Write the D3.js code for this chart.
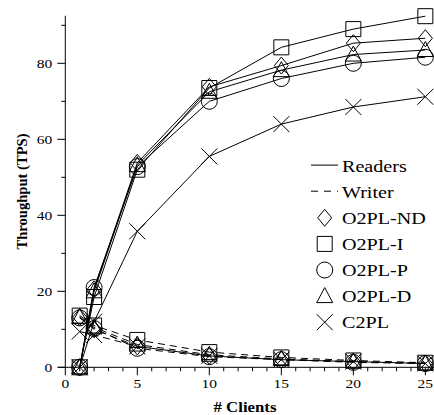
<!DOCTYPE html>
<html>
<head>
<meta charset="utf-8">
<script src="https://cdn.jsdelivr.net/npm/d3@7"></script>
<style>
  html, body { margin: 0; padding: 0; background: #fff; }
  svg { display: block; }
  text { font-family: "Liberation Serif", "Times New Roman", serif; fill: #000; }
</style>
</head>
<body>
<svg id="chart" width="434" height="415"></svg>
<script>
// Number of clients at each measurement point
const clients = [1, 2, 5, 10, 15, 20, 25];

// Protocols, in legend order
const protocols = ["O2PL-ND", "O2PL-I", "O2PL-P", "O2PL-D", "C2PL"];
const markers = ["diamond", "square", "circle", "triangle", "cross"];

// Reader throughput (TPS) per protocol
const readersND = [0, 20.5, 53.8, 73.8, 79.4, 85.3, 86.6];
const readersI  = [0, 18.5, 52.0, 73.5, 84.2, 89.0, 92.4];
const readersP  = [0, 21.0, 52.8, 70.0, 76.0, 80.0, 81.6];
const readersD  = [0, 20.0, 53.2, 72.5, 78.2, 82.3, 83.5];
const readersC  = [0, 12.0, 35.8, 55.5, 64.0, 68.5, 71.2];

// Writer throughput (TPS) per protocol
const writerND = [13.2, 10.0, 5.5, 3.0, 2.0, 1.5, 1.0];
const writerI  = [13.6, 11.0, 7.2, 4.0, 2.6, 1.8, 1.2];
const writerP  = [13.0, 10.2, 5.0, 2.8, 2.0, 1.3, 1.0];
const writerD  = [13.2, 10.5, 6.0, 3.3, 2.2, 1.5, 1.0];
const writerC  = [9.4, 8.5, 5.5, 3.0, 2.0, 1.5, 1.0];

const readers = [readersND, readersI, readersP, readersD, readersC];
const writers = [writerND, writerI, writerP, writerD, writerC];

// Axis ticks
const xMajorTicks = [0, 5, 10, 15, 20, 25];
const xMinorTicks = d3.range(0, 26);
const yMajorTicks = [0, 20, 40, 60, 80];
const yMinorTicks = [10, 30, 50, 70, 90];

const svg = d3.select("#chart");
const plotLeft = 65.3, plotRight = 434, plotTop = 15.8, plotBottom = 367.3;

const x = d3.scaleLinear().domain([0, 25.6]).range([plotLeft, plotRight]);
const y = d3.scaleLinear().domain([0, 92.5]).range([plotBottom, plotTop]);

// Glyphs drawn as paths centred on (0,0)
function markerPath(kind) {
  switch (kind) {
    case "diamond":  return "M0,-8.5L7,0L0,8.5L-7,0Z";
    case "square":   return "M-7.5,-7.5H7.5V7.5H-7.5Z";
    case "circle":   return "M8,0A8,8 0 1,1 -8,0A8,8 0 1,1 8,0Z";
    case "triangle": return "M0,-8.5L8,6.5L-8,6.5Z";
    case "cross":    return "M-8,-8L8,8M-8,8L8,-8";
  }
}

const axes = svg.append("g").attr("stroke", "#000").attr("stroke-width", 1);

// X axis
axes.append("line").attr("x1", plotLeft - 7).attr("x2", plotRight).attr("y1", plotBottom).attr("y2", plotBottom);
axes.selectAll(".xminor").data(xMinorTicks.filter(d => d % 5 !== 0)).join("line")
  .attr("x1", d => x(d)).attr("x2", d => x(d)).attr("y1", plotBottom).attr("y2", plotBottom + 4);
axes.selectAll(".xmajor").data(xMajorTicks).join("line")
  .attr("x1", d => x(d)).attr("x2", d => x(d)).attr("y1", plotBottom).attr("y2", plotBottom + 8);

// Y axis
axes.append("line").attr("x1", plotLeft).attr("x2", plotLeft).attr("y1", plotTop).attr("y2", plotBottom);
axes.selectAll(".yminor").data(yMinorTicks).join("line")
  .attr("x1", plotLeft - 4).attr("x2", plotLeft).attr("y1", d => y(d)).attr("y2", d => y(d));
axes.selectAll(".ymajor").data(yMajorTicks).join("line")
  .attr("x1", plotLeft - 8).attr("x2", plotLeft).attr("y1", d => y(d)).attr("y2", d => y(d));

// Tick labels (slightly wide, as in the original typesetting)
svg.selectAll(".xlab").data(xMajorTicks).join("text")
  .attr("transform", d => `translate(${x(d)},${plotBottom + 21}) scale(1.15,1)`)
  .attr("text-anchor", "middle").attr("font-size", 13.5).text(d => d);
svg.selectAll(".ylab").data(yMajorTicks).join("text")
  .attr("transform", d => `translate(${plotLeft - 13},${y(d) + 4.5}) scale(1.15,1)`)
  .attr("text-anchor", "end").attr("font-size", 13.5).text(d => d);

// Axis titles
svg.append("text")
  .attr("transform", `translate(245,411.5) scale(1.12,1)`)
  .attr("text-anchor", "middle").attr("font-size", 15).attr("font-weight", "bold")
  .text("# Clients");
svg.append("text")
  .attr("transform", `translate(26.5,191.5) rotate(-90)`)
  .attr("text-anchor", "middle").attr("font-size", 14.6).attr("font-weight", "bold")
  .text("Throughput (TPS)");

const line = d3.line().x((d, i) => x(clients[i])).y(d => y(d));
const plot = svg.append("g").attr("fill", "none").attr("stroke", "#000").attr("stroke-width", 1);

// Writer curves (dashed)
writers.forEach(vals => {
  plot.append("path").attr("d", line(vals)).attr("stroke-dasharray", "7,5");
});
// Reader curves (solid)
readers.forEach(vals => {
  plot.append("path").attr("d", line(vals));
});

// Point markers
[readers, writers].forEach(group => {
  group.forEach((vals, k) => {
    plot.selectAll(null).data(vals).join("path")
      .attr("transform", (d, i) => `translate(${x(clients[i])},${y(d)})`)
      .attr("d", markerPath(markers[k]));
  });
});

// Legend
const legend = svg.append("g");
const lx0 = 311, lx1 = 338, ltx = 342, ly0 = 171.6, ldy = 26.1;
legend.append("line").attr("x1", lx0).attr("x2", lx1).attr("y1", ly0 - 6.5).attr("y2", ly0 - 6.5)
  .attr("stroke", "#000");
legend.append("line").attr("x1", lx0).attr("x2", lx1).attr("y1", ly0 + ldy - 6.5).attr("y2", ly0 + ldy - 6.5)
  .attr("stroke", "#000").attr("stroke-dasharray", "7,6");
const legendLabels = ["Readers", "Writer"].concat(protocols);
legend.selectAll("text").data(legendLabels).join("text")
  .attr("transform", (d, i) => `translate(${ltx},${ly0 + i * ldy}) scale(1.15,1)`)
  .attr("font-size", 17.5).text(d => d);
legend.selectAll(".lm").data(markers).join("path")
  .attr("transform", (d, i) => `translate(324.7,${ly0 + (i + 2) * ldy - 6})`)
  .attr("d", d => markerPath(d))
  .attr("fill", "none").attr("stroke", "#000");
</script>
</body>
</html>
